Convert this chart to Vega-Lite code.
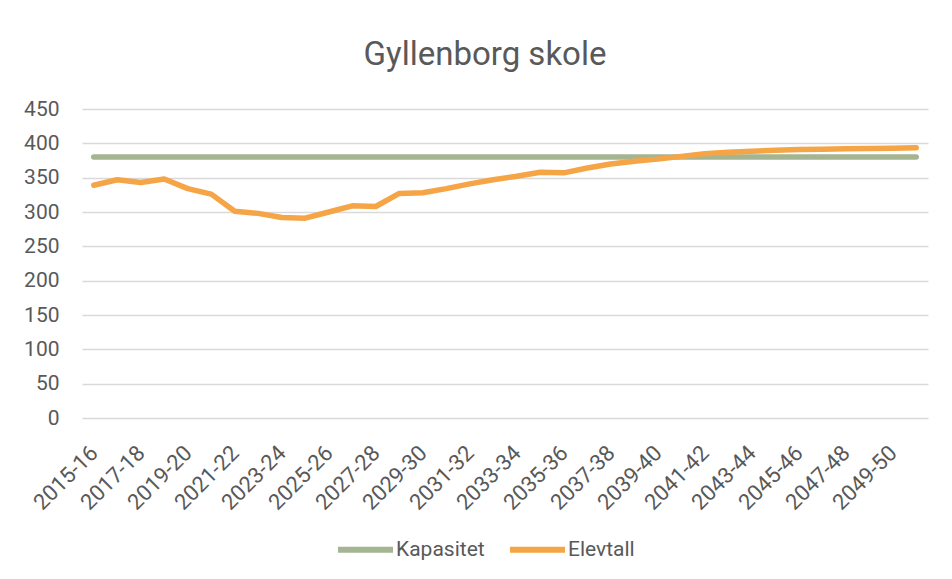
{
  "$schema": "https://vega.github.io/schema/vega-lite/v6.json",
  "width": 846,
  "height": 309,
  "autosize": {"type": "none"},
  "padding": {"left": 82, "top": 109, "right": 24, "bottom": 152},
  "background": "white",
  "config": {
    "font": "Roboto",
    "view": {"stroke": null},
    "axis": {"labelColor": "#595959", "labelFont": "Roboto", "labelFontSize": 20, "domain": false, "ticks": false},
    "legend": {"labelColor": "#595959", "labelFont": "Roboto", "labelFontSize": 21}
  },
  "title": {
    "text": "Gyllenborg skole",
    "font": "Roboto",
    "fontSize": 33,
    "fontWeight": "normal",
    "color": "#595959",
    "anchor": "middle",
    "baseline": "alphabetic",
    "offset": 0,
    "dx": -20
  },
  "datasets": {
    "kap": [
      {"year": "2015-16", "series": "Kapasitet", "value": 380},
      {"year": "2016-17", "series": "Kapasitet", "value": 380},
      {"year": "2017-18", "series": "Kapasitet", "value": 380},
      {"year": "2018-19", "series": "Kapasitet", "value": 380},
      {"year": "2019-20", "series": "Kapasitet", "value": 380},
      {"year": "2020-21", "series": "Kapasitet", "value": 380},
      {"year": "2021-22", "series": "Kapasitet", "value": 380},
      {"year": "2022-23", "series": "Kapasitet", "value": 380},
      {"year": "2023-24", "series": "Kapasitet", "value": 380},
      {"year": "2024-25", "series": "Kapasitet", "value": 380},
      {"year": "2025-26", "series": "Kapasitet", "value": 380},
      {"year": "2026-27", "series": "Kapasitet", "value": 380},
      {"year": "2027-28", "series": "Kapasitet", "value": 380},
      {"year": "2028-29", "series": "Kapasitet", "value": 380},
      {"year": "2029-30", "series": "Kapasitet", "value": 380},
      {"year": "2030-31", "series": "Kapasitet", "value": 380},
      {"year": "2031-32", "series": "Kapasitet", "value": 380},
      {"year": "2032-33", "series": "Kapasitet", "value": 380},
      {"year": "2033-34", "series": "Kapasitet", "value": 380},
      {"year": "2034-35", "series": "Kapasitet", "value": 380},
      {"year": "2035-36", "series": "Kapasitet", "value": 380},
      {"year": "2036-37", "series": "Kapasitet", "value": 380},
      {"year": "2037-38", "series": "Kapasitet", "value": 380},
      {"year": "2038-39", "series": "Kapasitet", "value": 380},
      {"year": "2039-40", "series": "Kapasitet", "value": 380},
      {"year": "2040-41", "series": "Kapasitet", "value": 380},
      {"year": "2041-42", "series": "Kapasitet", "value": 380},
      {"year": "2042-43", "series": "Kapasitet", "value": 380},
      {"year": "2043-44", "series": "Kapasitet", "value": 380},
      {"year": "2044-45", "series": "Kapasitet", "value": 380},
      {"year": "2045-46", "series": "Kapasitet", "value": 380},
      {"year": "2046-47", "series": "Kapasitet", "value": 380},
      {"year": "2047-48", "series": "Kapasitet", "value": 380},
      {"year": "2048-49", "series": "Kapasitet", "value": 380},
      {"year": "2049-50", "series": "Kapasitet", "value": 380},
      {"year": "2050-51", "series": "Kapasitet", "value": 380}
    ],
    "elev": [
      {"year": "2015-16", "series": "Elevtall", "value": 339},
      {"year": "2016-17", "series": "Elevtall", "value": 347},
      {"year": "2017-18", "series": "Elevtall", "value": 343},
      {"year": "2018-19", "series": "Elevtall", "value": 348},
      {"year": "2019-20", "series": "Elevtall", "value": 334},
      {"year": "2020-21", "series": "Elevtall", "value": 326},
      {"year": "2021-22", "series": "Elevtall", "value": 301},
      {"year": "2022-23", "series": "Elevtall", "value": 298},
      {"year": "2023-24", "series": "Elevtall", "value": 292},
      {"year": "2024-25", "series": "Elevtall", "value": 291},
      {"year": "2025-26", "series": "Elevtall", "value": 300},
      {"year": "2026-27", "series": "Elevtall", "value": 309},
      {"year": "2027-28", "series": "Elevtall", "value": 308},
      {"year": "2028-29", "series": "Elevtall", "value": 327},
      {"year": "2029-30", "series": "Elevtall", "value": 328},
      {"year": "2030-31", "series": "Elevtall", "value": 334},
      {"year": "2031-32", "series": "Elevtall", "value": 341},
      {"year": "2032-33", "series": "Elevtall", "value": 347},
      {"year": "2033-34", "series": "Elevtall", "value": 352},
      {"year": "2034-35", "series": "Elevtall", "value": 358},
      {"year": "2035-36", "series": "Elevtall", "value": 357},
      {"year": "2036-37", "series": "Elevtall", "value": 364},
      {"year": "2037-38", "series": "Elevtall", "value": 370},
      {"year": "2038-39", "series": "Elevtall", "value": 374},
      {"year": "2039-40", "series": "Elevtall", "value": 377},
      {"year": "2040-41", "series": "Elevtall", "value": 381},
      {"year": "2041-42", "series": "Elevtall", "value": 385},
      {"year": "2042-43", "series": "Elevtall", "value": 387},
      {"year": "2043-44", "series": "Elevtall", "value": 388.5},
      {"year": "2044-45", "series": "Elevtall", "value": 390},
      {"year": "2045-46", "series": "Elevtall", "value": 391},
      {"year": "2046-47", "series": "Elevtall", "value": 391.5},
      {"year": "2047-48", "series": "Elevtall", "value": 392},
      {"year": "2048-49", "series": "Elevtall", "value": 392.5},
      {"year": "2049-50", "series": "Elevtall", "value": 393},
      {"year": "2050-51", "series": "Elevtall", "value": 393.5}
    ]
  },
  "encoding": {
    "x": {
      "field": "year",
      "type": "ordinal",
      "sort": null,
      "scale": {"type": "point", "padding": 0.5},
      "axis": {
        "title": null,
        "labelAngle": -45,
        "labelAlign": "right",
        "labelBaseline": "middle",
        "labelFontSize": 22,
        "labelPadding": 31,
        "labelOverlap": false,
        "grid": false,
        "values": ["2015-16","2017-18","2019-20","2021-22","2023-24","2025-26","2027-28","2029-30","2031-32","2033-34","2035-36","2037-38","2039-40","2041-42","2043-44","2045-46","2047-48","2049-50"]
      }
    },
    "y": {
      "field": "value",
      "type": "quantitative",
      "scale": {"domain": [0, 450], "nice": false},
      "axis": {
        "title": null,
        "values": [0, 50, 100, 150, 200, 250, 300, 350, 400, 450],
        "grid": true,
        "gridColor": "#D9D9D9",
        "gridWidth": 1.4,
        "labelFontSize": 21,
        "labelPadding": 23
      }
    },
    "color": {
      "field": "series",
      "type": "nominal",
      "scale": {"domain": ["Kapasitet", "Elevtall"], "range": ["#A5B592", "#F5A546"]},
      "legend": {
        "title": null,
        "orient": "none",
        "direction": "horizontal",
        "legendX": 253,
        "legendY": 410,
        "symbolType": "stroke",
        "symbolSize": 3025,
        "symbolStrokeWidth": 6,
        "labelOffset": 0,
        "columnPadding": 13
      }
    }
  },
  "layer": [
    {
      "data": {"name": "kap"},
      "mark": {"type": "line", "strokeWidth": 5.5, "strokeCap": "round"}
    },
    {
      "data": {"name": "elev"},
      "mark": {"type": "line", "strokeWidth": 5.5, "strokeCap": "round", "strokeJoin": "round"}
    }
  ]
}
